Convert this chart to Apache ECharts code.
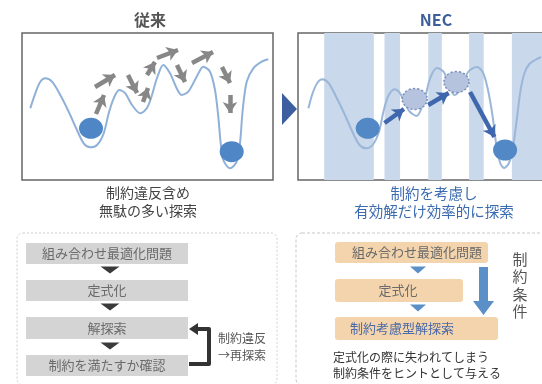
<!DOCTYPE html>
<html><head><meta charset="utf-8">
<script src="https://cdn.jsdelivr.net/npm/echarts@6/dist/echarts.min.js"></script>
<style>html,body{margin:0;padding:0;background:#fff}#c{width:542px;height:384px}</style>
</head><body><div id="c"></div>
<script>
// ---------- data ----------
const panelTitles = ['従来', 'NEC'];
const leftCaption = ['制約違反含め', '無駄の多い探索'];
const rightCaption = ['制約を考慮し', '有効解だけ効率的に探索'];

// landscape curves (x: position 0-251, y: height 0-147)
const leftCurveX = [8.3, 13.3, 18.3, 23.3, 30, 38.3, 46.7, 55, 61.7, 68.3, 75, 81.7, 86.7, 91.7, 97.3, 103.3, 110, 118.3, 125, 130, 135, 141.3, 148, 154.7, 159.7, 166.3, 174.7, 181.3, 188, 193, 196.3, 198.7, 201.3, 208, 214.7, 218, 220.7, 224.7, 231.3, 239.7, 246.3];
const leftCurveY = [71.7, 86.7, 98.3, 101.7, 98.3, 85, 68.3, 50, 36.7, 32.7, 35, 46.7, 66.7, 81.7, 90, 86.7, 75, 66.7, 72, 85, 102, 115, 106.7, 91.7, 85, 88.3, 103.3, 113.3, 108.3, 90, 63.3, 36.7, 20, 11.7, 18.3, 36.7, 70, 98.3, 111.7, 118.3, 120.7];
const rightCurveX = [10.7, 15, 20, 25, 31.7, 40, 48.3, 56.7, 63.3, 70, 76.7, 83.3, 88.3, 93.3, 99.3, 105, 110, 115, 122, 130, 136, 143, 150, 155, 161, 168, 175, 184, 190, 195, 200, 204, 208, 212, 217, 221, 225, 229, 233, 238, 244, 250];
const rightCurveY = [71.7, 86.7, 97.3, 100.7, 96.7, 81.7, 65, 46.7, 35, 31.7, 35, 48.3, 70, 85, 90.7, 86.7, 76.7, 68.3, 64, 80, 102, 112, 108, 95, 85, 92, 108, 113, 108, 92, 65, 35, 17, 12, 17, 32, 60, 90, 107, 116, 120, 123];

// balls
const leftBallX = [69, 209.7];
const leftBallY = [51.7, 28.3];
const rightSolidX = [71.7, 213];
const rightSolidY = [51.7, 30];
const rightGhostX = [120, 163];
const rightGhostY = [81, 98];

// arrows
const leftArrowX0 = [74, 73, 106, 121, 125, 135, 155, 170, 200, 208];
const leftArrowY0 = [66, 93, 105, 78, 105, 122, 115, 117, 113, 85];
const leftArrowX1 = [82, 93, 115, 126, 133, 156, 163, 191, 208, 208];
const leftArrowY1 = [85, 105, 87, 92, 118, 130, 98, 128, 97, 67];
const rightArrowX0 = [89, 134, 177];
const rightArrowY0 = [57, 75, 88];
const rightArrowX1 = [109, 155, 202];
const rightArrowY1 = [71, 87, 43];

// constraint-feasible stripes
const stripeStart = [27, 89, 134, 176, 220];
const stripeEnd = [78, 105, 148, 191, 251];

// flow steps
const leftSteps = ['組み合わせ最適化問題', '定式化', '解探索', '制約を満たすか確認'];
const loopLabel = ['制約違反', '→再探索'];
const rightSteps = ['組み合わせ最適化問題', '定式化', '制約考慮型解探索'];
const sideLabel = '制約条件';
const rightNote = ['定式化の際に失われてしまう', '制約条件をヒントとして与える'];

// ---------- chart ----------
const FONT = '"Noto Sans CJK JP", "Noto Sans CJK SC", sans-serif';
const zip = (xs, ys) => xs.map((x, i) => [x, ys[i]]);
const arrows = (x0, y0, x1, y1) => x0.map((x, i) => ({ coords: [[x, y0[i]], [x1[i], y1[i]]] }));

const chart = echarts.init(document.getElementById('c'), null, { renderer: 'canvas' });

function txt(x, y, text, size, color, align, weight) {
  return {
    type: 'text', x: x, y: y, z: 20,
    style: {
      text: text, fill: color, fontSize: size, fontFamily: FONT, fontWeight: weight || 'normal',
      align: align || 'center', verticalAlign: 'middle',
      textAlign: align || 'center', textVerticalAlign: 'middle'
    }
  };
}
function rect(x, y, w, h, fill, r) {
  return { type: 'rect', z: 10, shape: { x: x, y: y, width: w, height: h, r: r || 0 }, style: { fill: fill } };
}
function tri(cx, cy, w, h, fill) {
  return { type: 'polygon', z: 11, shape: { points: [[cx - w / 2, cy - h / 2], [cx + w / 2, cy - h / 2], [cx, cy + h / 2]] }, style: { fill: fill } };
}

const graphics = [];
graphics.push(txt(150, 20, panelTitles[0], 16, '#555', 'center', 'bold'));
graphics.push(txt(436, 20, panelTitles[1], 16, '#3d5f99', 'center', 'bold'));
graphics.push({ type: 'polygon', z: 10, shape: { points: [[282, 93], [297, 109], [282, 125]] }, style: { fill: '#3d5fa0' } });
graphics.push(txt(148, 193, leftCaption[0], 14, '#444'));
graphics.push(txt(148, 211, leftCaption[1], 14, '#444'));
graphics.push(txt(434, 193, rightCaption[0], 14.5, '#3a6ab0'));
graphics.push(txt(434, 211, rightCaption[1], 14.5, '#3a6ab0'));

// bottom-left flow
graphics.push({ type: 'rect', z: 5, shape: { x: 17, y: 233, width: 260, height: 152, r: 6 }, style: { fill: 'none', stroke: '#cfcfcf', lineWidth: 1, lineDash: [2, 2] } });
const lbY = [243, 280, 317, 355];
const lbH = [21, 21, 22, 21];
leftSteps.forEach((s, i) => {
  graphics.push(rect(26, lbY[i], 162, lbH[i], '#d4d4d4'));
  graphics.push(txt(107, lbY[i] + lbH[i] / 2, s, 13, '#6a6a6a'));
});
[270, 307, 346].forEach(y => graphics.push(tri(110, y, 19, 7, '#3a3a3a')));
graphics.push({ type: 'polyline', z: 12, shape: { points: [[189, 364], [209, 364], [209, 329], [197, 329]] }, style: { stroke: '#333', lineWidth: 4, fill: 'none', lineJoin: 'round' } });
graphics.push({ type: 'polygon', z: 12, shape: { points: [[189, 329], [198, 323], [198, 335]] }, style: { fill: '#333' } });
graphics.push(txt(218, 338, loopLabel[0], 12, '#555', 'left'));
graphics.push(txt(218, 355, loopLabel[1], 12, '#555', 'left'));

// bottom-right flow
graphics.push({ type: 'rect', z: 5, shape: { x: 296, y: 233, width: 260, height: 152, r: 6 }, style: { fill: 'none', stroke: '#c8c8c8', lineWidth: 1, lineDash: [3, 2] } });
const rbX = [335, 335, 335];
const rbW = [153, 128, 163];
const rbY = [242, 279, 317];
const rbH = [21, 23, 23];
const rbTx = [417, 398, 402];
const rbColor = ['#6a6a6a', '#6a6a6a', '#4a6aa8'];
rightSteps.forEach((s, i) => {
  graphics.push(rect(rbX[i], rbY[i], rbW[i], rbH[i], '#f3d4ac', 3));
  graphics.push(txt(rbTx[i], rbY[i] + rbH[i] / 2, s, 13, rbColor[i]));
});
[270, 308].forEach(y => graphics.push(tri(418, y, 16, 7, '#5b8fc8')));
graphics.push({ type: 'polygon', z: 12, shape: { points: [[479, 267], [488, 267], [488, 301], [494, 301], [483.5, 315], [473, 301], [479, 301]] }, style: { fill: '#5b8fc8' } });
sideLabel.split('').forEach((ch, i) => graphics.push(txt(520, 259 + i * 17.5, ch, 15, '#555')));
graphics.push(txt(333, 357, rightNote[0], 12, '#333', 'left'));
graphics.push(txt(333, 373, rightNote[1], 12, '#333', 'left'));

const xOff = { show: false, min: 0, max: 251 };
const yOff = { show: false, min: 0, max: 147 };
const option = {
  animation: false,
  backgroundColor: '#fff',
  grid: [
    { left: 22, top: 33, width: 251, height: 147, show: true, borderColor: '#666', borderWidth: 1.5, backgroundColor: 'transparent' },
    { left: 298, top: 33, width: 251, height: 147, show: true, borderColor: '#666', borderWidth: 1.5, backgroundColor: 'transparent' }
  ],
  xAxis: [Object.assign({ type: 'value', gridIndex: 0 }, xOff), Object.assign({ type: 'value', gridIndex: 1 }, xOff)],
  yAxis: [Object.assign({ type: 'value', gridIndex: 0 }, yOff), Object.assign({ type: 'value', gridIndex: 1 }, yOff)],
  series: [
    {
      type: 'custom', xAxisIndex: 1, yAxisIndex: 1, z: 1, clip: true,
      data: stripeStart.map((s, i) => [s, stripeEnd[i]]),
      renderItem: function (params, api) {
        const p0 = api.coord([api.value(0), 147]);
        const p1 = api.coord([api.value(1), 0]);
        return { type: 'rect', shape: { x: p0[0], y: p0[1], width: p1[0] - p0[0], height: p1[1] - p0[1] }, style: { fill: '#c9d8ea' } };
      }
    },
    {
      type: 'line', xAxisIndex: 0, yAxisIndex: 0, z: 2, data: zip(leftCurveX, leftCurveY),
      smooth: 0.3, showSymbol: false, symbol: 'none',
      lineStyle: { color: '#8fb1d8', width: 2 }
    },
    {
      type: 'line', xAxisIndex: 1, yAxisIndex: 1, z: 2, data: zip(rightCurveX, rightCurveY),
      smooth: 0.3, showSymbol: false, symbol: 'none',
      lineStyle: { color: '#9ab6d8', width: 2 }
    },
    {
      type: 'scatter', xAxisIndex: 0, yAxisIndex: 0, z: 4, data: zip(leftBallX, leftBallY),
      symbol: 'circle', symbolSize: [24, 21], itemStyle: { color: '#4f87c6', opacity: 1 }
    },
    {
      type: 'scatter', xAxisIndex: 1, yAxisIndex: 1, z: 4, data: zip(rightSolidX, rightSolidY),
      symbol: 'circle', symbolSize: [24, 21], itemStyle: { color: '#5288c6', opacity: 1 }
    },
    {
      type: 'scatter', xAxisIndex: 1, yAxisIndex: 1, z: 4, data: zip(rightGhostX, rightGhostY),
      symbol: 'circle', symbolSize: [25, 21],
      itemStyle: { color: '#b5c3df', borderColor: '#7d8fbc', borderWidth: 1.5, borderType: [2, 2], opacity: 1 }
    },
    {
      type: 'lines', coordinateSystem: 'cartesian2d', xAxisIndex: 0, yAxisIndex: 0, z: 5,
      data: arrows(leftArrowX0, leftArrowY0, leftArrowX1, leftArrowY1),
      symbol: ['none', 'arrow'], symbolSize: 11,
      lineStyle: { color: '#878787', width: 4.5, opacity: 1 }
    },
    {
      type: 'lines', coordinateSystem: 'cartesian2d', xAxisIndex: 1, yAxisIndex: 1, z: 5,
      data: arrows(rightArrowX0, rightArrowY0, rightArrowX1, rightArrowY1),
      symbol: ['none', 'arrow'], symbolSize: 11,
      lineStyle: { color: '#3f67ae', width: 4.5, opacity: 1 }
    }
  ],
  graphic: { elements: graphics }
};
chart.setOption(option);
</script>
</body></html>
